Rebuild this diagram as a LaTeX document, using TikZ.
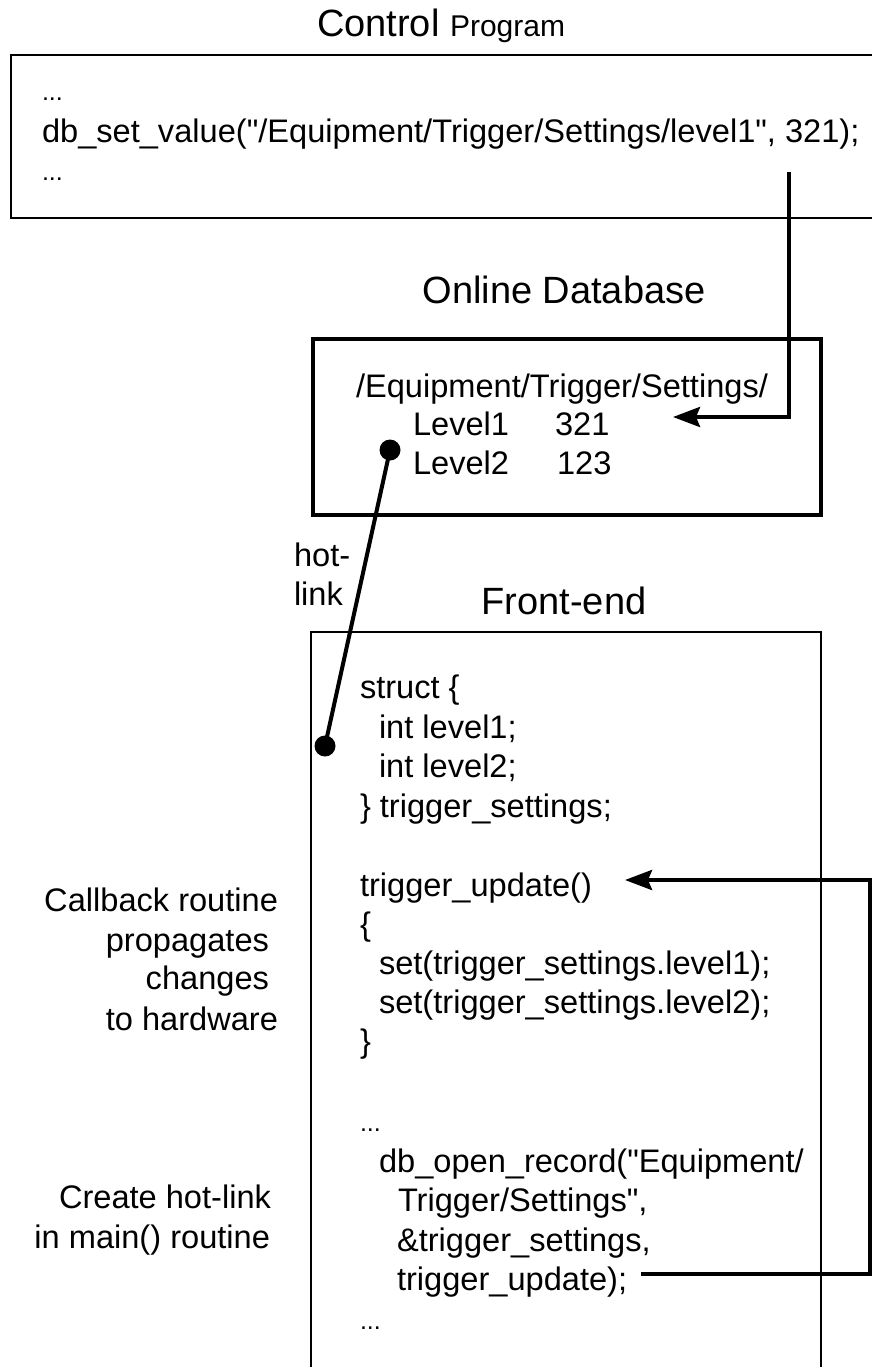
\documentclass[tikz,border=0pt]{standalone}
\usepackage{fontspec}
\setmainfont{Liberation Sans}[Ligatures=TeXOff]
\usetikzlibrary{arrows.meta}
\begin{document}
\begin{tikzpicture}[x=1pt,y=-1pt,
  code/.style={inner sep=0pt,outer sep=0pt,anchor=base west,font=\fontsize{32.6}{39}\selectfont},
  ellip/.style={inner sep=0pt,outer sep=0pt,anchor=base west,font=\fontsize{25}{30}\selectfont},
  note/.style={inner sep=0pt,outer sep=0pt,anchor=base east,font=\fontsize{32.6}{39}\selectfont},
  heading/.style={inner sep=0pt,outer sep=0pt,anchor=base,font=\fontsize{38}{44}\selectfont},
  panel/.style={draw,inner sep=0pt,outer sep=0pt,anchor=north west},
  thinpanel/.style={panel,line width=2.5pt},
  thickpanel/.style={panel,line width=4pt},
  framepanel/.style={panel,line width=2pt},
  flow/.style={line width=4pt,-{Stealth[length=27pt,width=20pt,inset=4pt]}},
  hotlink/.style={line width=4pt},
  blob/.style={circle,fill,inner sep=0pt,outer sep=0pt,minimum size=21pt}
]
\useasboundingbox[fill=white] (0,0) rectangle (872,1367);

% ---- control program ----
\node[heading,anchor=base west] (cptitle) at (317,37)
  {Control {\fontsize{30}{36}\selectfont Program}};
\node[thinpanel,minimum width=870pt,minimum height=163pt] (cp) at (11,55) {};
\node[ellip] (cpdots1) at (42,101) {...};
\node[code] (cpset) at (42,143) {db\_set\_value("/Equipment/Trigger/Settings/level1", 321);};
\node[ellip] (cpdots2) at (42,181) {...};
\coordinate (cpout) at (789,172);

% ---- online database ----
\node[heading] (dbtitle) at (564,303) {Online Database};
\node[thickpanel,minimum width=508pt,minimum height=176pt] (db) at (313,339) {};
\node[code] (dbpath) at (356,397) {/Equipment/Trigger/Settings/};
\node[code] (lv1) at (413,435) {Level1};
\node[code] (lv1val) at (555,435) {321};
\node[code] (lv2) at (413,474) {Level2};
\node[code] (lv2val) at (557,474) {123};
\coordinate (dbin) at (673,417);

% ---- hot-link ----
\node[code] (hot) at (294,566) {hot-};
\node[code] (lnk) at (294,605) {link};
\node[blob] (hlsrc) at (390,450) {};
\node[blob] (hldst) at (325,746) {};

% ---- front-end ----
\node[heading] (fetitle) at (564,614) {Front-end};
\node[framepanel,minimum width=510pt,minimum height=780pt] (fe) at (311,632) {};

\node[code] (s1) at (360,698) {struct \{};
\node[code] (s2) at (379,738) {int level1;};
\node[code] (s3) at (379,777) {int level2;};
\node[code] (s4) at (360,817) {\} trigger\_settings;};

\node[code] (u1) at (360,896) {trigger\_update()};
\node[code] (u2) at (360,935) {\{};
\node[code] (u3) at (379,974) {set(trigger\_settings.level1);};
\node[code] (u4) at (379,1013) {set(trigger\_settings.level2);};
\node[code] (u5) at (360,1052) {\}};

\node[ellip] (o0) at (360,1131) {...};
\node[code] (o1) at (379,1172) {db\_open\_record("Equipment/};
\node[code] (o2) at (398,1211) {Trigger/Settings",};
\node[code] (o3) at (397,1251) {\&trigger\_settings,};
\node[code] (o4) at (397,1290) {trigger\_update);};
\node[ellip] (o5) at (360,1329) {...};

\coordinate (regout) at (641,1274);
\coordinate (cbin) at (625,880);
\coordinate (loopx) at (870,1000);

% ---- side notes ----
\node[note] (n1) at (278,911) {Callback routine};
\node[note] (n2) at (269,951) {propagates};
\node[note] (n3) at (269,989) {changes};
\node[note] (n4) at (278,1030) {to hardware};
\node[note] (n5) at (271,1208) {Create hot-link};
\node[note] (n6) at (270,1248) {in main() routine};

% ---- connectors ----
\draw[flow] (cpout) |- (dbin);
\draw[hotlink] (hlsrc.center) -- (hldst.center);
\draw[flow] (regout) -- (regout -| loopx) |- (cbin);
\end{tikzpicture}
\end{document}
